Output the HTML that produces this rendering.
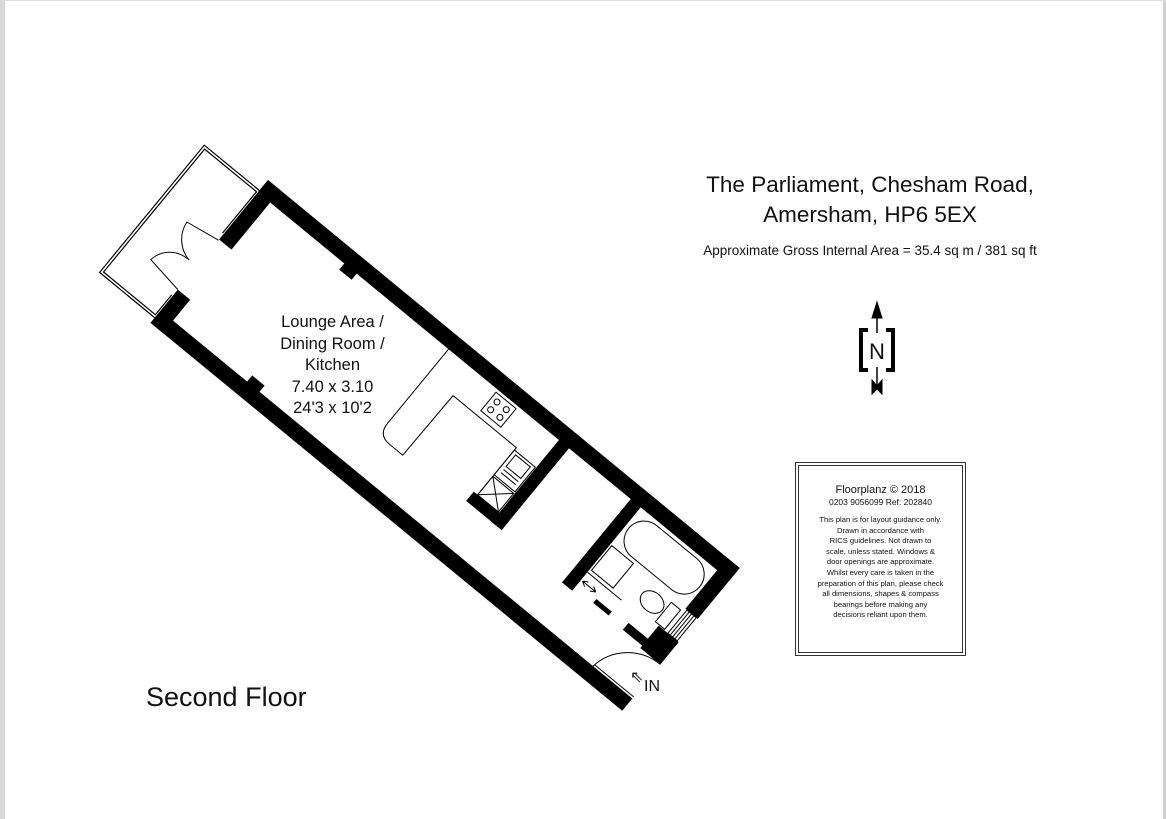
<!DOCTYPE html>
<html><head><meta charset="utf-8"><style>
html,body{margin:0;padding:0;background:#fff;}
body{width:1166px;height:819px;overflow:hidden;position:relative;font-family:"Liberation Sans",sans-serif;}
.t{position:absolute;text-align:center;color:#111;white-space:nowrap;}
</style></head><body>
<div style="position:absolute;left:0;top:0;width:5px;height:819px;background:#d8d8d8"></div>
<div style="position:absolute;right:0;top:0;width:3px;height:819px;background:#d0d0d0"></div>
<div style="position:absolute;left:0;top:0;width:1166px;height:1px;background:#ddd"></div>
<svg width="1166" height="819" style="position:absolute;left:0;top:0">
<g transform="matrix(0.772,0.635,-0.635,0.772,268,180)" fill="#000" stroke="none">
  <rect x="-70" y="15" width="70" height="162" fill="none" stroke="#000" stroke-width="4"/>
  <rect x="-70" y="15" width="70" height="162" fill="none" stroke="#fff" stroke-width="1.6"/>
  <rect x="-5" y="70" width="10" height="80" fill="#fff"/>
  <rect x="0" y="0" width="611" height="16"/>
  <rect x="0" y="169" width="611" height="16"/>
  <rect x="0" y="0" width="16" height="77"/>
  <rect x="0" y="142" width="16" height="43"/>
  <rect x="595" y="0" width="16" height="66"/>
  <rect x="585" y="96" width="26" height="29"/>
  <rect x="112" y="14" width="16" height="10"/>
  <rect x="112" y="161" width="16" height="10"/>
  <g fill="none" stroke="#000" stroke-width="1">
    <path d="M0 78 L-36 84 A32 32 0 0 0 -10 112"/>
    <path d="M0 142 L-40 136 A28 28 0 0 1 -12 112"/>
  </g>
  <rect x="390" y="14" width="13" height="108"/>
  <rect x="357" y="110" width="46" height="12"/>
  <rect x="483" y="14" width="13" height="110"/>
  <rect x="483" y="112" width="12" height="12"/>
  <rect x="560" y="113" width="40" height="9"/>
  <rect x="520" y="115" width="20" height="5"/>
  <g fill="none" stroke="#000" stroke-width="1">
    <path d="M247 16 L247 112 Q247 127 262 127 L279 127 L280 49 L362 49 L362 110"/>
    <rect x="311" y="19" width="26" height="24"/>
    <circle cx="318" cy="26" r="3"/><circle cx="330" cy="26" r="3"/><circle cx="318" cy="36" r="3"/><circle cx="330" cy="36" r="3"/>
    <rect x="362" y="52" width="27" height="32"/>
    <rect x="366" y="55" width="19" height="15"/>
    <path d="M366 74 L385 74 M366 78 L385 78"/>
    <rect x="362" y="86" width="27" height="24"/>
    <path d="M362 86 L389 110 M389 86 L362 110"/>
    <rect x="500" y="20" width="92" height="40" rx="20"/>
    <rect x="498" y="64" width="28" height="32"/>
    <ellipse cx="565" cy="82" rx="13" ry="10"/>
    <rect x="580" y="70" width="12" height="25"/>
    <path d="M496 100 L540 100"/>
    <rect x="597" y="66" width="12" height="30"/>
    <path d="M600 66 L600 96 M603 66 L603 96 M606 66 L606 96"/>
    <path d="M498 110 L515 110 M498 110 L503 107 M498 110 L503 113 M515 110 L510 107 M515 110 L510 113"/>
    <path d="M611 170 L560 170 A51 51 0 0 1 611 125"/>
    <path d="M560 167 L611 167"/>
  </g>
</g>
<g stroke="#000" fill="#000">
  <line x1="877" y1="310" x2="877" y2="388" stroke-width="1.5"/>
  <polygon points="877,302 872,318 882,318"/>
  <polygon points="872,380 877,386 882,380 882,394 877,389 872,394"/>
  <rect x="862" y="333" width="30" height="34" fill="#fff" stroke="none"/>
  <path d="M868 330 L861 330 L861 370 L868 370 M886 330 L893 330 L893 370 L886 370" fill="none" stroke-width="4"/>
</g>
<text x="877" y="359" font-family="Liberation Sans" font-size="22" text-anchor="middle" fill="#111">N</text>
<text x="630" y="682" font-size="16" fill="#111">⇖</text>
</svg>
<div class="t" style="left:230px;top:312px;width:205px;font-size:16.5px;line-height:21.5px">Lounge Area /<br>Dining Room /<br>Kitchen<br>7.40 x 3.10<br>24'3 x 10'2</div>
<div class="t" style="left:644px;top:678px;font-size:16px">IN</div>
<div class="t" style="left:146px;top:682px;font-size:27px;text-align:left">Second Floor</div>
<div class="t" style="left:660px;top:170px;width:420px;font-size:22.5px;line-height:30px">The Parliament, Chesham Road,<br>Amersham, HP6 5EX</div>
<div class="t" style="left:660px;top:243px;width:420px;font-size:13.5px">Approximate Gross Internal Area = 35.4 sq m / 381 sq ft</div>
<div style="position:absolute;left:795px;top:462px;width:169px;height:192px;border:1px solid #333;"></div>
<div style="position:absolute;left:798px;top:465px;width:163px;height:186px;border:1px solid #333;"></div>
<div class="t" style="left:798px;top:484px;width:165px;font-size:11px;line-height:12px">Floorplanz © 2018<br><span style="font-size:8.5px">0203 9056099 Ref: 202840</span></div>
<div class="t" style="left:798px;top:515px;width:165px;font-size:7.6px;line-height:10.6px">This plan is for layout guidance only.<br>Drawn in accordance with<br>RICS guidelines. Not drawn to<br>scale, unless stated. Windows &amp;<br>door openings are approximate.<br>Whilst every care is taken in the<br>preparation of this plan, please check<br>all dimensions, shapes &amp; compass<br>bearings before making any<br>decisions reliant upon them.</div>
</body></html>
